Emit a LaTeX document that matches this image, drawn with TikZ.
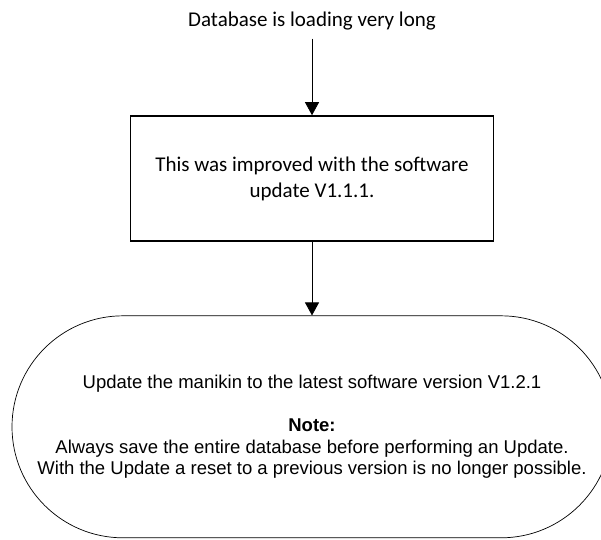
\documentclass[tikz,border=0pt]{standalone}
\usepackage{fontspec}
\setmainfont{Carlito}
\newfontfamily\arialfont{Liberation Sans}
\usetikzlibrary{arrows.meta}
\begin{document}
\begin{tikzpicture}[x=1pt,y=-1pt]
\tikzset{titre/.style={inner sep=8pt, font=\fontsize{21}{26}\selectfont}}
\tikzset{boite/.style={draw, line width=1.6pt, minimum width=363pt, minimum height=125pt, align=center, font=\fontsize{21}{26}\selectfont}}
\tikzset{bulle/.style={draw, rounded corners=111pt, line width=0.7pt, minimum width=600pt, minimum height=222pt, align=center, font=\arialfont\fontsize{18.5}{21.6}\selectfont}}
\tikzset{fleche/.style={-{Triangle[width=14pt,length=13pt]}, line width=0.8pt}}
\useasboundingbox (0,0) rectangle (601,539);
\clip (0,0) rectangle (601,539);
\node[titre, anchor=base] (T) at (312,26.7) {Database is loading very long};
\node[boite] (B) at (312,178.5) {This was improved with the software\\update V1.1.1.};
\node[bulle] (U) at (312,426.8) {Update the manikin to the latest software version V1.2.1\\[21.6pt]
\textbf{Note:}\\Always save the entire database before performing an Update.\\
With the Update a reset to a previous version is no longer possible.};
\draw[fleche] (T) -- (B);
\draw[fleche] (B) -- (U);
\end{tikzpicture}
\end{document}
